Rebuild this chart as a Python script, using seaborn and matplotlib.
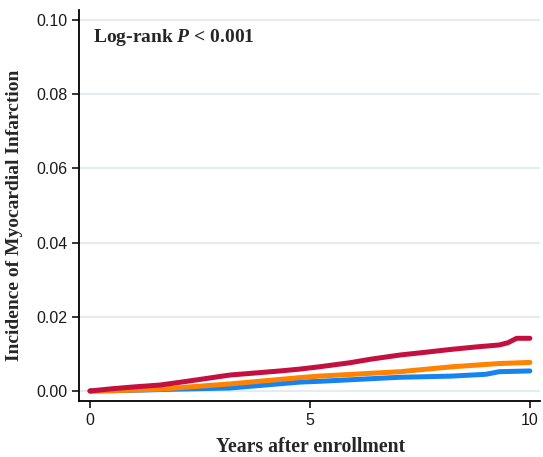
import matplotlib
matplotlib.use("Agg")
import matplotlib.pyplot as plt
import seaborn as sns
import pandas as pd

# Data (years, cumulative incidence)
red_t = [0.0, 0.5, 1.0, 1.59, 2.2, 3.18, 3.6, 4.32, 4.77, 5.2, 5.9, 6.4, 7.05, 7.6, 8.2, 8.8, 9.3, 9.5, 9.7, 10.0]
red_y = [0.0, 0.0006, 0.0011, 0.0016, 0.0026, 0.0043, 0.0047, 0.0054, 0.0059, 0.0065, 0.0076, 0.0086, 0.0097, 0.0104, 0.0112, 0.0119, 0.0124, 0.0130, 0.0142, 0.0142]
org_t = [0.0, 0.6, 1.59, 3.18, 4.77, 5.2, 7.05, 8.2, 9.3, 10.0]
org_y = [0.0, 0.0001, 0.0005, 0.0019, 0.0036, 0.0040, 0.0052, 0.0065, 0.0074, 0.0077]
blu_t = [0.0, 1.0, 2.0, 3.18, 4.77, 5.2, 7.05, 8.2, 9.0, 9.3, 10.0]
blu_y = [0.0, 0.0002, 0.0005, 0.0008, 0.0024, 0.0026, 0.0037, 0.0040, 0.0045, 0.0052, 0.0054]

y_ticks = [0.00, 0.02, 0.04, 0.06, 0.08, 0.10]
x_ticks = [0, 5, 10]

sns.set_style("white")
plt.rcParams["mathtext.fontset"] = "custom"
plt.rcParams["mathtext.bfit"] = "Liberation Serif:bold:italic"
plt.rcParams["mathtext.rm"] = "Liberation Serif"

fig = plt.figure(figsize=(5.43, 4.57), dpi=100)
# axes: left spine at x=79, right at 540, bottom at y=401, top at y=10
ax = fig.add_axes([79/543, (457-401)/457, (540-79)/543, (401-10)/457])

groups = [("red", red_t, red_y, "#C4103E"),
          ("orange", org_t, org_y, "#FF8200"),
          ("blue", blu_t, blu_y, "#1684F0")]
for name, t, y, c in groups[::-1]:
    df = pd.DataFrame({"t": t, "y": y})
    sns.lineplot(data=df, x="t", y="y", ax=ax, color=c, linewidth=3.6, estimator=None, zorder=3)

ax.set_xlim(-0.25, 10.23)
ax.set_ylim(-0.0027, 0.1027)
ax.set_yticks(y_ticks)
ax.set_yticklabels([f"{v:.2f}" for v in y_ticks])
ax.set_xticks(x_ticks)
ax.grid(axis="y", color="#e6ecee", linewidth=1.5, zorder=0)
ax.set_axisbelow(True)
for s in ["top", "right"]:
    ax.spines[s].set_visible(False)
for s in ["left", "bottom"]:
    ax.spines[s].set_color("black")
    ax.spines[s].set_linewidth(1.3)
ax.tick_params(axis="both", direction="out", length=5, width=1.1, color="black",
               labelsize=11.5, labelcolor="#1a1a1a", left=True, bottom=True)
for lab in ax.get_xticklabels() + ax.get_yticklabels():
    lab.set_fontfamily("Liberation Sans")

H = 391.0
ax.set_xlabel("Years after enrollment", fontfamily="Liberation Serif", fontweight="bold",
              fontsize=14.2)
ax.xaxis.set_label_coords((311 - 79) / 461, -(447 - 401) / H)
ax.xaxis.label.set_va("center")
ax.set_ylabel("Incidence of Myocardial Infarction", fontfamily="Liberation Serif",
              fontweight="bold", fontsize=14)
ax.yaxis.set_label_coords(-(79 - 15) / 461, (401 - 215.5) / H)
ax.yaxis.label.set_va("center")
ax.text((93 - 79) / 461, (401 - 37) / H, r"Log-rank $\mathbfit{P}$ < 0.001",
        transform=ax.transAxes, fontfamily="Liberation Serif", fontweight="bold",
        fontsize=14, va="center", ha="left")

fig.savefig("out.png", dpi=100)
